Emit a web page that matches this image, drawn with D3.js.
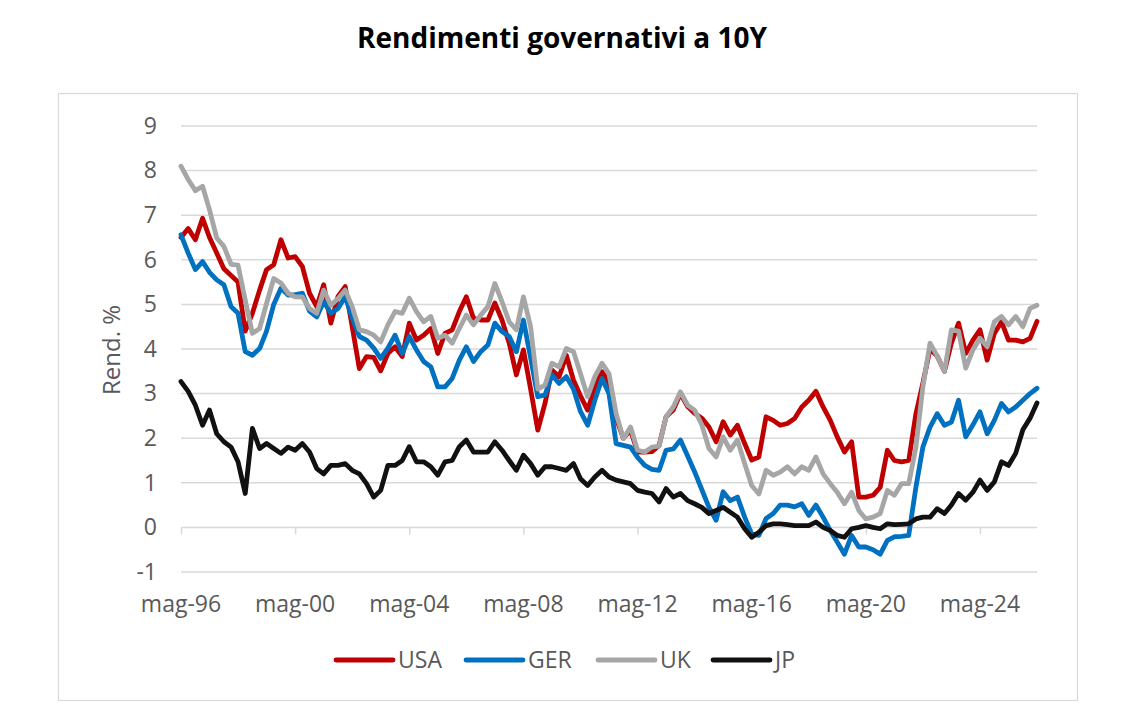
<!DOCTYPE html>
<html><head><meta charset="utf-8">
<script src="https://cdn.jsdelivr.net/npm/d3@7"></script>
<style>
html,body{margin:0;padding:0;background:#fff;}
svg{display:block;font-family:"Open Sans",sans-serif;}
</style></head>
<body>
<svg id="chart" width="1132" height="709"></svg>
<script>
// ---- DATA (quarterly, from May 1996) ----
const startDate = "1996-05-01";
const seriesNames = ["USA", "GER", "UK", "JP"];
const seriesColors = ["#C00000", "#0070C0", "#A6A6A6", "#111111"];
const usa = [6.5,6.7,6.45,6.93,6.5,6.15,5.8,5.65,5.5,4.4,
 4.8,5.32,5.78,5.89,6.45,6.04,6.07,5.85,5.25,4.95,
 5.44,4.58,5.18,5.4,4.5,3.56,3.83,3.81,3.51,3.9,
 4.05,3.83,4.58,4.2,4.31,4.46,3.9,4.35,4.43,4.84,
 5.17,4.69,4.65,4.65,5.03,4.65,4.13,3.42,3.98,3.1,
 2.18,2.78,3.53,3.38,3.86,3.3,2.95,2.63,3.15,3.49,
 3.25,2.45,2.0,2.18,1.69,1.69,1.7,1.84,2.48,2.63,
 3.0,2.71,2.56,2.45,2.25,1.92,2.37,2.07,2.29,1.88,
 1.51,1.58,2.48,2.40,2.29,2.33,2.44,2.70,2.85,3.05,
 2.70,2.40,2.03,1.69,1.92,0.68,0.68,0.72,0.9,1.73,
 1.5,1.47,1.5,2.55,3.23,4.0,3.84,3.5,4.13,4.58,
 3.9,4.2,4.43,3.75,4.35,4.61,4.2,4.2,4.16,4.24,
 4.62];
const ger = [6.56,6.15,5.78,5.96,5.72,5.55,5.44,4.95,4.8,3.94,
 3.86,4.01,4.4,5.0,5.36,5.21,5.22,5.25,4.85,4.72,
 5.06,4.8,4.91,5.17,4.7,4.28,4.2,4.02,3.79,4.02,
 4.31,3.9,4.28,3.98,3.72,3.6,3.15,3.15,3.34,3.75,
 4.05,3.72,3.94,4.09,4.58,4.39,4.28,3.94,4.65,3.8,
 2.93,2.97,3.42,3.23,3.38,3.1,2.6,2.29,2.85,3.34,
 3.0,1.88,1.84,1.8,1.57,1.39,1.3,1.28,1.73,1.76,
 1.96,1.6,1.25,0.85,0.45,0.16,0.8,0.6,0.68,0.23,
 -0.15,-0.18,0.2,0.31,0.5,0.5,0.46,0.53,0.27,0.5,
 0.23,-0.07,-0.33,-0.6,-0.18,-0.44,-0.44,-0.5,-0.6,-0.29,
 -0.21,-0.2,-0.18,0.9,1.8,2.25,2.55,2.29,2.36,2.85,
 2.03,2.3,2.59,2.1,2.4,2.78,2.59,2.7,2.85,3.0,
 3.12];
const uk = [8.1,7.8,7.55,7.65,7.12,6.49,6.3,5.9,5.88,5.1,
 4.35,4.46,5.02,5.58,5.48,5.25,5.17,5.17,4.91,4.8,
 5.32,4.98,5.13,5.32,4.95,4.43,4.39,4.31,4.16,4.54,
 4.84,4.8,5.14,4.84,4.61,4.73,4.24,4.31,4.13,4.46,
 4.76,4.54,4.76,4.95,5.47,5.06,4.61,4.43,5.17,4.5,
 3.1,3.19,3.68,3.6,4.01,3.94,3.45,2.93,3.38,3.68,
 3.45,2.55,1.99,2.25,1.73,1.69,1.8,1.82,2.48,2.7,
 3.04,2.74,2.63,2.3,1.77,1.58,2.03,1.73,1.96,1.43,
 0.94,0.75,1.28,1.17,1.24,1.36,1.2,1.36,1.28,1.58,
 1.2,0.98,0.79,0.53,0.79,0.38,0.19,0.23,0.31,0.83,
 0.72,0.98,0.98,1.8,3.15,4.13,3.84,3.5,4.43,4.4,
 3.57,3.98,4.24,4.05,4.61,4.73,4.54,4.73,4.5,4.91,
 4.98];
const jp = [3.27,3.05,2.74,2.29,2.63,2.1,1.92,1.8,1.47,0.76,
 2.22,1.77,1.88,1.77,1.66,1.8,1.73,1.88,1.69,1.32,
 1.2,1.39,1.39,1.43,1.28,1.2,0.98,0.68,0.83,1.39,
 1.39,1.5,1.81,1.47,1.47,1.36,1.17,1.47,1.5,1.81,
 1.96,1.69,1.69,1.69,1.92,1.73,1.5,1.28,1.62,1.43,
 1.17,1.36,1.36,1.32,1.28,1.43,1.09,0.94,1.13,1.28,
 1.13,1.06,1.02,0.98,0.83,0.79,0.76,0.57,0.87,0.68,
 0.76,0.6,0.53,0.45,0.31,0.38,0.45,0.34,0.23,-0.03,
 -0.22,-0.11,0.04,0.08,0.08,0.06,0.04,0.04,0.04,0.12,
 0.0,-0.07,-0.18,-0.22,-0.03,0.0,0.04,0.0,-0.03,0.08,
 0.06,0.07,0.08,0.19,0.23,0.23,0.42,0.31,0.5,0.76,
 0.61,0.79,1.06,0.83,1.02,1.47,1.39,1.66,2.19,2.45,
 2.79];
const yTicks = [-1,0,1,2,3,4,5,6,7,8,9];
const xTickDates = ["1996-05-01","2000-05-01","2004-05-01","2008-05-01","2012-05-01","2016-05-01","2020-05-01","2024-05-01"];
const xTickLabels = ["mag-96","mag-00","mag-04","mag-08","mag-12","mag-16","mag-20","mag-24"];
const titleText = "Rendimenti governativi a 10Y";
const yTitle = "Rend. %";

// ---- CHART ----
const svg = d3.select("#chart");
const parse = d3.timeParse("%Y-%m-%d");
const t0 = parse(startDate);
const dates = usa.map((_, i) => d3.timeMonth.offset(t0, 3 * i));
const x = d3.scaleTime().domain([t0, dates[dates.length - 1]]).range([181, 1037]);
const y = d3.scaleLinear().domain([-1, 9]).range([572, 126]);
const gray = "#595959";
const grid = "#d9d9d9";

// outer border
svg.append("rect").attr("x", 58.5).attr("y", 93.5).attr("width", 1019).attr("height", 607)
  .attr("fill", "none").attr("stroke", grid).attr("stroke-width", 1.2);

// title
svg.append("text").attr("x", 562).attr("y", 48).attr("text-anchor", "middle")
  .attr("font-size", 28).attr("font-weight", 700).attr("fill", "#000").text(titleText);

// gridlines
svg.append("g").selectAll("line").data(yTicks).join("line")
  .attr("x1", 181).attr("x2", 1037)
  .attr("y1", d => y(d)).attr("y2", d => y(d))
  .attr("stroke", grid).attr("stroke-width", 1.5);

// y labels
const yAxis = d3.axisLeft(y).tickValues(yTicks).tickSize(0).tickPadding(0).tickFormat(d => String(d));
const gy = svg.append("g").attr("transform", "translate(157,0)").call(yAxis);
gy.select(".domain").remove();
gy.selectAll("text").attr("font-size", 23).attr("fill", gray).attr("font-family", "Open Sans, sans-serif");

// x axis ticks at zero line
const xDates = xTickDates.map(parse);
const xAxis = d3.axisBottom(x).tickValues(xDates).tickSize(7).tickFormat(() => "");
const gx = svg.append("g").attr("transform", `translate(0,${y(0)})`).call(xAxis);
gx.select(".domain").remove();
gx.selectAll("line").attr("stroke", grid).attr("stroke-width", 1.5);
// x labels at bottom
svg.append("g").selectAll("text").data(xDates).join("text")
  .attr("x", d => x(d)).attr("y", 612).attr("text-anchor", "middle")
  .attr("font-size", 23).attr("fill", gray).text((d, i) => xTickLabels[i]);

// y title
svg.append("text").attr("transform", "translate(120,350) rotate(-90)").attr("text-anchor", "middle")
  .attr("font-size", 24).attr("fill", gray).text(yTitle);

// lines
const allSeries = [usa, ger, uk, jp];
const line = d3.line().x((d, i) => x(dates[i])).y(d => y(d));
svg.append("g").selectAll("path").data(allSeries).join("path")
  .attr("d", d => line(d)).attr("fill", "none")
  .attr("stroke", (d, i) => seriesColors[i]).attr("stroke-width", 4.8)
  .attr("stroke-linejoin", "round").attr("stroke-linecap", "round");

// legend
const legX = [336, 466, 598, 713];
const lg = svg.append("g").selectAll("g").data(seriesNames).join("g")
  .attr("transform", (d, i) => `translate(${legX[i]},660)`);
lg.append("line").attr("x1", 0).attr("x2", 57).attr("y1", 0).attr("y2", 0)
  .attr("stroke", (d, i) => seriesColors[i]).attr("stroke-width", 4.8).attr("stroke-linecap", "round");
lg.append("text").attr("x", 62).attr("y", 8).attr("font-size", 23).attr("fill", gray).text(d => d);
</script>
</body></html>
